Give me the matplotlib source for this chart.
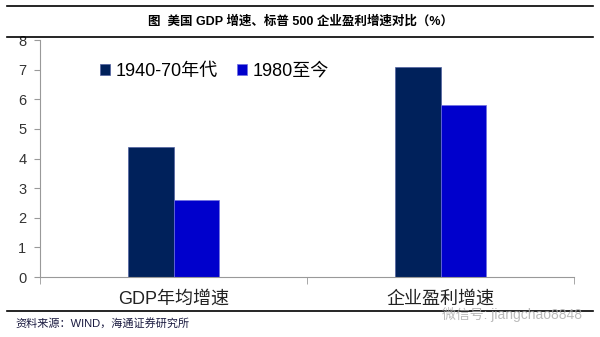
import numpy as np
import matplotlib.pyplot as plt

plt.rcParams['font.family'] = ['Liberation Sans', 'Noto Sans CJK SC', 'DejaVu Sans']

# 数据
categories = ['GDP年均增速', '企业盈利增速']
series_names = ['1940-70年代', '1980至今']
values_4070 = [4.4, 7.1]
values_1980 = [2.6, 5.8]
colors = ['#00215B', '#0000CC']
y_ticks = list(range(0, 9))

fig = plt.figure(figsize=(6, 3.37), dpi=100)
ax = fig.add_axes([0.067, 0.178, 0.89, 0.703])

x = np.arange(len(categories))
w = 0.17
ax.bar(x - w / 2, values_4070, w, color=colors[0], edgecolor='#5060A0', linewidth=0.5,
       label=series_names[0])
ax.bar(x + w / 2, values_1980, w, color=colors[1], edgecolor='#7070E0', linewidth=0.5,
       label=series_names[1])

ax.set_xlim(-0.5, 1.5)
ax.set_ylim(0, 8)
ax.set_yticks(y_ticks)
ax.set_xticks(x)
ax.set_xticklabels(categories, fontsize=13, color='#222222')
ax.tick_params(axis='x', length=0, pad=10)
ax.set_xticks([-0.5, 0.5, 1.5], minor=True)
ax.tick_params(axis='x', which='minor', length=5, color='#999999')
ax.tick_params(axis='y', length=4, color='#999999', labelsize=10.5, labelcolor='#333333', pad=6)
for s in ['top', 'right']:
    ax.spines[s].set_visible(False)
ax.spines['left'].set_color('#999999')
ax.spines['bottom'].set_color('#999999')

ax.legend(loc='upper left', bbox_to_anchor=(0.112, 0.905), ncol=2, frameon=False,
          borderpad=0, borderaxespad=0,
          fontsize=13, handlelength=0.55, handleheight=0.55, handletextpad=0.3,
          columnspacing=1.1)

# 标题与线
fig.add_artist(plt.Line2D([0.012, 0.988], [0.982, 0.982], color='black', lw=1.2))
fig.add_artist(plt.Line2D([0.012, 0.988], [0.89, 0.89], color='black', lw=1.2))
fig.text(0.5, 0.936, '图  美国 GDP 增速、标普 500 企业盈利增速对比（%）', ha='center', va='center',
         fontsize=9, fontweight='bold')
fig.add_artist(plt.Line2D([0.012, 0.988], [0.077, 0.077], color='black', lw=1.2))
fig.text(0.025, 0.04, '资料来源：WIND，海通证券研究所', ha='left', va='center', fontsize=8,
         color='#1a1a40')
fig.text(0.97, 0.068, '微信号: jiangchao8848', ha='right', va='center', fontsize=10,
         color='#aaaaaa', alpha=0.8)

plt.savefig('out.png', dpi=100)
